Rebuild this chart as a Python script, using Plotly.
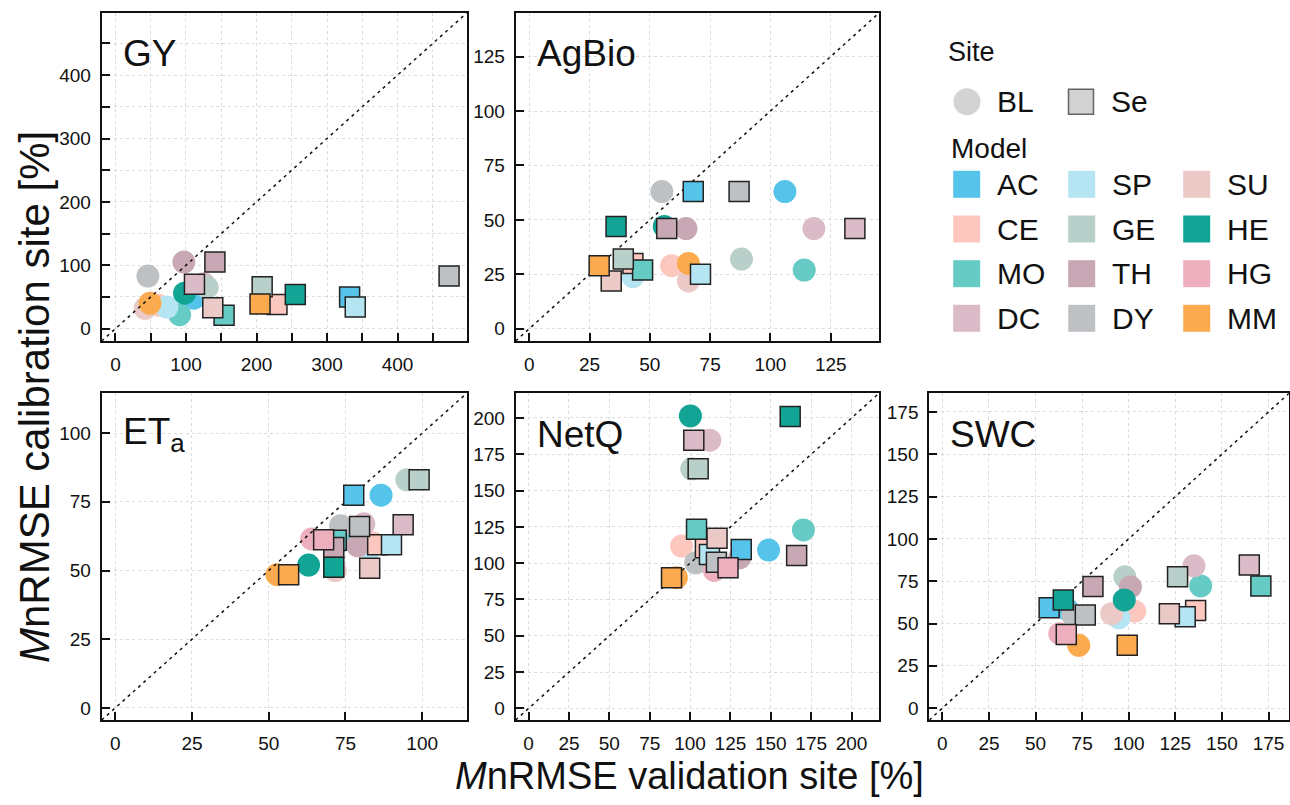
import plotly.graph_objects as go

# model order follows the legend columns (AC CE MO DC | SP GE TH DY | SU HE HG MM)
MODELS = ["AC", "CE", "MO", "DC", "SP", "GE", "TH", "DY", "SU", "HE", "HG", "MM"]
COLORS = ["#56C3EA", "#FCC7BE", "#66CBC4", "#DBBBC8", "#B5E4F3", "#B9CFC9",
          "#C8A8B4", "#BEC1C4", "#EBC9C6", "#12A596", "#EDAFBE", "#FBAA4E"]

SITES = ["BL", "Se"]
PANELS = ["GY", "AgBio", "ET<sub>a</sub>", "NetQ", "SWC"]

# x = MnRMSE validation site, y = MnRMSE calibration site  (None = not simulated)
GY_BL_X = [111, 61, 91, 125, 73, 130, 97, 46, 42, 98, None, 49]
GY_BL_Y = [48, 37, 22, 71, 34, 65, 105, 83, 32, 56, None, 40]
GY_SE_X = [332, 229, 154, 112, 340, 208, 141, 473, 138, 255, None, 205]
GY_SE_Y = [50, 38, 21, 70, 34, 66, 105, 83, 33, 54, None, 39]

AG_BL_X = [106, 59, 114, 118, 43, 88, 65, 55, 66, 56, None, 66]
AG_BL_Y = [63, 29, 27, 46, 24, 32, 46, 63, 22, 47, None, 30]
AG_SE_X = [68, 43, 47, 135, 71, 39, 57, 87, 34, 36, None, 29]
AG_SE_Y = [63, 30, 27, 46, 25, 32, 46, 63, 22, 47, None, 29]

ET_BL_X = [86.6, 84, 74, 81, 83, 95, 79, 73.4, 71.7, 63, 64, 52.7]
ET_BL_Y = [77.4, 60, 61, 67, 58, 83, 59, 66.3, 50, 52, 61.5, 48.5]
ET_SE_X = [77.7, 85.5, 72, 93.8, 90, 99, 71.2, 79.6, 82.9, 71.2, 67.9, 56.5]
ET_SE_Y = [77.4, 59.4, 61, 66.7, 59.4, 83, 58.4, 66, 50.8, 51.2, 61.2, 48.5]

NQ_BL_X = [148.6, 94.7, 170.2, 112.2, 110, 101, 130.7, 103.5, 112, 100.2, 115, 91.5]
NQ_BL_Y = [109, 111.8, 122.9, 184.7, 106, 165, 103.7, 100.3, 114, 201.4, 95, 90]
NQ_SE_X = [131.7, 109.5, 104, 102.3, 112, 105, 166, 116.3, 116.7, 162, 123.5, 88.5]
NQ_SE_Y = [109.5, 110.7, 123.4, 184.7, 106, 165, 105.3, 100.7, 117.2, 201, 96.8, 89.9]

SW_BL_X = [67, 103.2, 138.6, 135, 94.7, 97.9, 100.9, 70, 90.8, 97.6, 63, 73.2]
SW_BL_Y = [58.3, 57.3, 72.2, 84.1, 53.4, 77.6, 71.6, 55, 55.8, 63.9, 44, 37.1]
SW_SE_X = [57.3, 135.9, 170.9, 164.7, 130.3, 126.2, 80.8, 76.7, 121.8, 64.9, 66.5, 99.2]
SW_SE_Y = [59.3, 57.7, 72.2, 84.5, 54, 77.6, 71.8, 55, 55.8, 63.9, 43.5, 37.1]

# labelled tick step and unlabelled (minor) tick step per panel
TICK_STEP = [100, 25, 25, 25, 25]
MINOR_STEP = [50, None, None, None, None]

W, H = 1290, 805
FONT = "Liberation Sans, Arial, sans-serif"

# panel frames in pixels
COLS = [(101.7, 466.7), (515.7, 879.0), (929.3, 1289.0)]
ROWS = [(13.0, 341.0), (393.3, 720.0)]

panels = [
    (0, 0, (-19.5, 498), GY_BL_X, GY_BL_Y, GY_SE_X, GY_SE_Y),
    (0, 1, (-5.6, 145), AG_BL_X, AG_BL_Y, AG_SE_X, AG_SE_Y),
    (1, 0, (-4.4, 114.5), ET_BL_X, ET_BL_Y, ET_SE_X, ET_SE_Y),
    (1, 1, (-8, 217), NQ_BL_X, NQ_BL_Y, NQ_SE_X, NQ_SE_Y),
    (1, 2, (-7, 186), SW_BL_X, SW_BL_Y, SW_SE_X, SW_SE_Y),
]

fig = go.Figure()
layout = dict(
    width=W, height=H, margin=dict(l=0, r=0, t=0, b=0, autoexpand=False),
    plot_bgcolor="white", paper_bgcolor="white", showlegend=False,
    font=dict(family=FONT, color="#111"),
)
annotations = []

for k, (r, c, rng, bx, by, sx, sy) in enumerate(panels):
    n = "" if k == 0 else str(k + 1)
    x0, x1 = COLS[c]
    top, bottom = ROWS[r]
    axis_common = dict(
        range=list(rng), tick0=0, dtick=TICK_STEP[k], automargin=False,
        showline=True, mirror=True, linecolor="#111", linewidth=2,
        ticks="inside", ticklen=8, tickwidth=1.5, tickcolor="#111",
        showgrid=True, gridcolor="#dcdcdc", gridwidth=1, griddash="dot",
        zeroline=False, tickfont=dict(size=19, family=FONT, color="#111"),
        ticklabelstandoff=5,
    )
    if MINOR_STEP[k]:
        axis_common["minor"] = dict(
            tick0=0, dtick=MINOR_STEP[k], ticks="inside", ticklen=8, tickwidth=1.5,
            tickcolor="#111", showgrid=True, gridcolor="#dcdcdc", gridwidth=1, griddash="dot",
        )
    layout["xaxis" + n] = dict(axis_common, domain=[x0 / W, x1 / W], anchor="y" + n)
    layout["yaxis" + n] = dict(axis_common, domain=[(H - bottom) / H, (H - top) / H], anchor="x" + n)

    xa, ya = "x" + n, "y" + n
    fig.add_trace(go.Scatter(
        x=bx, y=by, mode="markers", xaxis=xa, yaxis=ya, hoverinfo="skip",
        marker=dict(symbol="circle", size=23, color=COLORS, line=dict(width=0)),
    ))
    fig.add_trace(go.Scatter(
        x=list(rng), y=list(rng), mode="lines", xaxis=xa, yaxis=ya, hoverinfo="skip",
        line=dict(color="#111", width=1.5, dash="3px,4px"),
    ))
    fig.add_trace(go.Scatter(
        x=sx, y=sy, mode="markers", xaxis=xa, yaxis=ya, hoverinfo="skip",
        marker=dict(symbol="square", size=20, color=COLORS, line=dict(width=1.5, color="#222")),
    ))
    annotations.append(dict(
        text=PANELS[k], xref="paper", yref="paper", x=(x0 + 19) / W, y=(H - (top + 41)) / H,
        xanchor="left", yanchor="middle", showarrow=False,
        font=dict(size=37, family=FONT, color="#111"),
    ))

# legend drawn on its own pixel-scaled axes
LEG_X0, LEG_X1, LEG_Y0, LEG_Y1 = 880, 1290, 15, 345
layout["xaxis6"] = dict(domain=[LEG_X0 / W, LEG_X1 / W], range=[LEG_X0, LEG_X1], visible=False,
                        anchor="y6", fixedrange=True, automargin=False)
layout["yaxis6"] = dict(domain=[(H - LEG_Y1) / H, (H - LEG_Y0) / H], range=[LEG_Y1, LEG_Y0],
                        visible=False, anchor="x6", fixedrange=True, automargin=False)

site_x = [967, 1081]
site_y = 101.7
fig.add_trace(go.Scatter(
    x=site_x, y=[site_y] * 2, mode="markers", xaxis="x6", yaxis="y6", hoverinfo="skip",
    marker=dict(symbol=["circle", "square"], size=[27, 25], color="#C0C0C0",
                line=dict(width=[0, 1.5], color="#222")),
))
for i, s in enumerate(SITES):
    annotations.append(dict(text=s, xref="x6", yref="y6", x=site_x[i] + 28, y=site_y,
                            xanchor="left", yanchor="middle", showarrow=False,
                            font=dict(size=30, family=FONT, color="#111")))

col_x = [966.7, 1081.7, 1196.7]
row_y = [184.3, 229.0, 273.7, 318.3]
fig.add_trace(go.Scatter(
    x=[col_x[i // 4] for i in range(len(MODELS))],
    y=[row_y[i % 4] for i in range(len(MODELS))],
    mode="markers", xaxis="x6", yaxis="y6", hoverinfo="skip",
    marker=dict(symbol="square", size=27, color=COLORS, line=dict(width=0)),
))
for i, m in enumerate(MODELS):
    annotations.append(dict(text=m, xref="x6", yref="y6", x=col_x[i // 4] + 28, y=row_y[i % 4],
                            xanchor="left", yanchor="middle", showarrow=False,
                            font=dict(size=30, family=FONT, color="#111")))

annotations.append(dict(text="Site", xref="x6", yref="y6", x=946, y=52, xanchor="left",
                        yanchor="middle", showarrow=False, font=dict(size=27, family=FONT, color="#111")))
annotations.append(dict(text="Model", xref="x6", yref="y6", x=949, y=148.3, xanchor="left",
                        yanchor="middle", showarrow=False, font=dict(size=28, family=FONT, color="#111")))

# shared axis titles
annotations.append(dict(text="<i>M</i>nRMSE validation site [%]", xref="paper", yref="paper",
                        x=690 / W, y=(H - 776) / H, xanchor="center", yanchor="middle",
                        showarrow=False, font=dict(size=38, family=FONT, color="#111")))
annotations.append(dict(text="<i>M</i>nRMSE calibration site [%]", xref="paper", yref="paper",
                        x=34 / W, y=(H - 397) / H, xanchor="center", yanchor="middle",
                        textangle=-90, showarrow=False, font=dict(size=42, family=FONT, color="#111")))

layout["annotations"] = annotations
fig.update_layout(**layout)
# drop the browser's default body margin so the 1290x805 figure fills the window exactly
fig.write_html("out.html", config={"displayModeBar": False},
               post_script="document.body.style.margin='0px';")
